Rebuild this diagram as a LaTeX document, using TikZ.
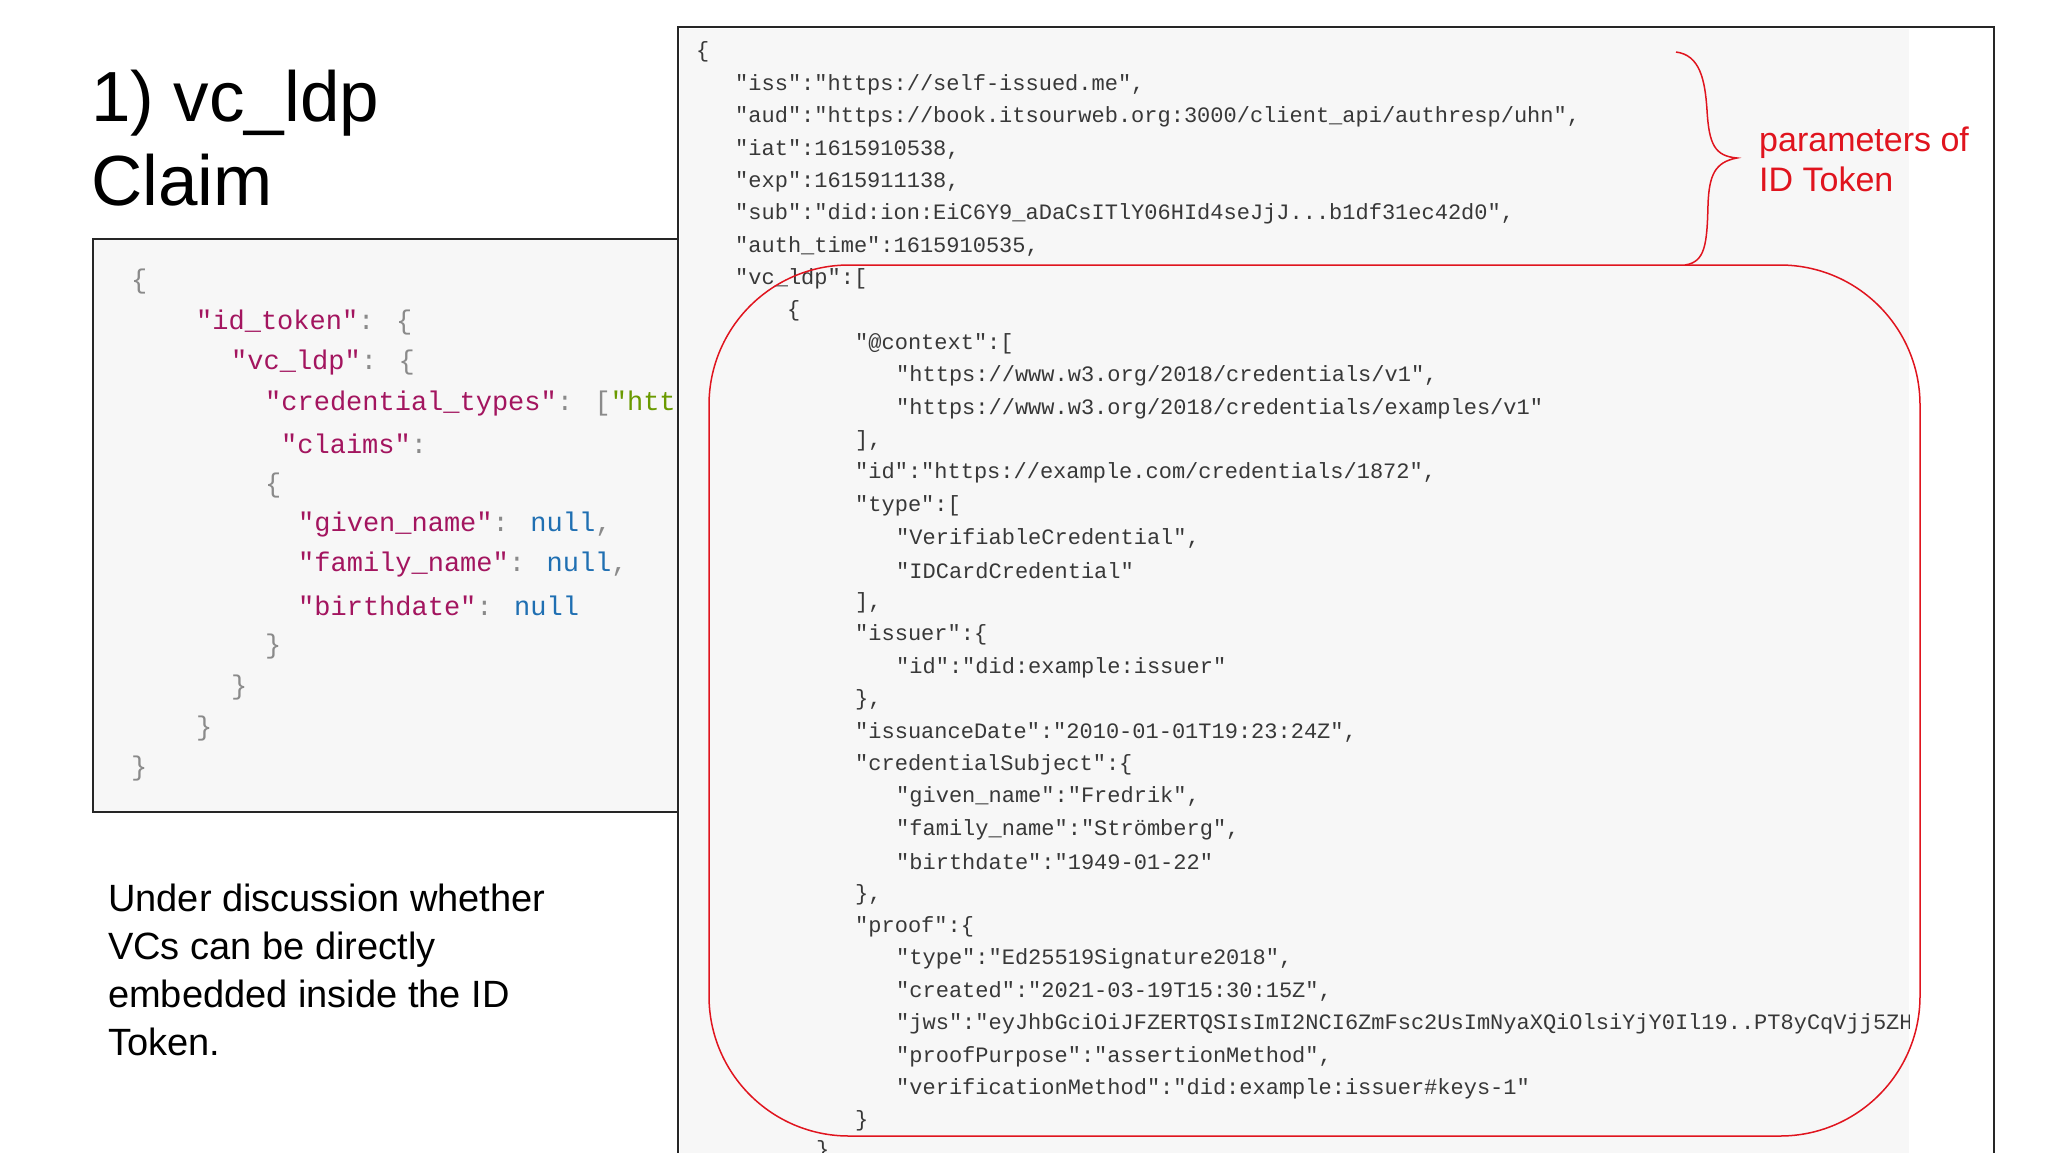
\documentclass[tikz,border=0pt]{standalone}
\usepackage{fontspec}
\setmainfont{Liberation Sans}
\newfontfamily\codefont{Liberation Mono}
\begin{document}
\begin{tikzpicture}[x=1pt,y=-1pt,
  rc/.style={anchor=west,inner sep=0pt,font=\codefont\fontsize{22}{26}\selectfont,text=black!78},
  lc/.style={anchor=west,inner sep=0pt,font=\codefont\fontsize{27}{32}\selectfont}]
\definecolor{keyc}{HTML}{A3155F}
\definecolor{nullc}{HTML}{1F6FB2}
\definecolor{brc}{HTML}{8A8A8A}
\definecolor{strc}{HTML}{6A9A00}
\definecolor{codebg}{HTML}{F7F7F7}
\definecolor{redc}{HTML}{E0141E}
\newcommand\rl[4]{\node[rc] (#1) at (#2,#3) {#4};}
\useasboundingbox (0,0) rectangle (2048,1152);
\fill[white] (0,0) rectangle (2048,1152);
% title
\node[anchor=base west,inner sep=0pt,font=\fontsize{71}{80}\selectfont] (t1) at (91,121) {1) vc\_ldp};
\node[anchor=base west,inner sep=0pt,font=\fontsize{71}{80}\selectfont] (t2) at (91,205) {Claim};
% left box
\fill[codebg] (93,239) rectangle (678,812);
\begin{scope}
\clip (93,239) rectangle (678,812);
\node[lc,text=brc] (l1) at (131,282) {\{};
\node[lc] (l2) at (196,323) {\textcolor{keyc}{"id\_token"}\textcolor{brc}{: \{}};
\node[lc] (l3) at (231,363) {\textcolor{keyc}{"vc\_ldp"}\textcolor{brc}{: \{}};
\node[lc] (l4) at (265,404) {\textcolor{keyc}{"credential\_types"}\textcolor{brc}{: [}\textcolor{strc}{"https://www.w3.org/2018/credentials/examples/v1"}};
\node[lc] (l5) at (281,444) {\textcolor{keyc}{"claims"}\textcolor{brc}{:}};
\node[lc,text=brc] (l6) at (265,486) {\{};
\node[lc] (l7) at (298,525) {\textcolor{keyc}{"given\_name"}\textcolor{brc}{: }\textcolor{nullc}{null}\textcolor{brc}{,}};
\node[lc] (l8) at (298,565) {\textcolor{keyc}{"family\_name"}\textcolor{brc}{: }\textcolor{nullc}{null}\textcolor{brc}{,}};
\node[lc] (l9) at (298,606) {\textcolor{keyc}{"birthdate"}\textcolor{brc}{: }\textcolor{nullc}{null}};
\node[lc,text=brc] (l10) at (265,647) {\}};
\node[lc,text=brc] (l11) at (231,688) {\}};
\node[lc,text=brc] (l12) at (196,729) {\}};
\node[lc,text=brc] (l13) at (131,769) {\}};
\end{scope}
\draw[line width=2pt,black!85] (93,239) rectangle (678,812);
% bottom text
\node[anchor=base west,inner sep=0pt,font=\fontsize{38}{48}\selectfont,align=left] (note) at (108,1055)
 {Under discussion whether\\VCs can be directly\\embedded inside the ID\\Token.};
% right box
\fill[white] (678,27) rectangle (1994,1160);
\fill[codebg] (680,29) rectangle (1909,1160);
\begin{scope}
\clip (680,29) rectangle (1909,1152);
\rl{r0}{696}{52.0}{\{}
\rl{r1}{735}{84.4}{"iss":"https://self-issued.me",}
\rl{r2}{735}{116.8}{"aud":"https://book.itsourweb.org:3000/client\_api/authresp/uhn",}
\rl{r3}{735}{149.2}{"iat":1615910538,}
\rl{r4}{735}{181.6}{"exp":1615911138,}
\rl{r5}{735}{214.0}{"sub":"did:ion:EiC6Y9\_aDaCsITlY06HId4seJjJ...b1df31ec42d0",}
\rl{r6}{735}{246.4}{"auth\_time":1615910535,}
\rl{r7}{735}{278.8}{"vc\_ldp":[}
\rl{r8}{787}{311.2}{\{}
\rl{r9}{855}{343.6}{"@context":[}
\rl{r10}{896}{376.0}{"https://www.w3.org/2018/credentials/v1",}
\rl{r11}{896}{408.4}{"https://www.w3.org/2018/credentials/examples/v1"}
\rl{r12}{855}{440.8}{],}
\rl{r13}{855}{473.2}{"id":"https://example.com/credentials/1872",}
\rl{r14}{855}{505.6}{"type":[}
\rl{r15}{896}{538.0}{"VerifiableCredential",}
\rl{r16}{896}{570.4}{"IDCardCredential"}
\rl{r17}{855}{602.8}{],}
\rl{r18}{855}{635.2}{"issuer":\{}
\rl{r19}{896}{667.6}{"id":"did:example:issuer"}
\rl{r20}{855}{700.0}{\},}
\rl{r21}{855}{732.4}{"issuanceDate":"2010-01-01T19:23:24Z",}
\rl{r22}{855}{764.8}{"credentialSubject":\{}
\rl{r23}{896}{797.2}{"given\_name":"Fredrik",}
\rl{r24}{896}{829.6}{"family\_name":"Strömberg",}
\rl{r25}{896}{862.0}{"birthdate":"1949-01-22"}
\rl{r26}{855}{894.4}{\},}
\rl{r27}{855}{926.8}{"proof":\{}
\rl{r28}{896}{959.2}{"type":"Ed25519Signature2018",}
\rl{r29}{896}{991.6}{"created":"2021-03-19T15:30:15Z",}
\rl{r30}{896}{1024.0}{"jws":"eyJhbGciOiJFZERTQSIsImI2NCI6ZmFsc2UsImNyaXQiOlsiYjY0Il19..PT8yCqVjj5ZHD3"}
\rl{r31}{896}{1056.4}{"proofPurpose":"assertionMethod",}
\rl{r32}{896}{1088.8}{"verificationMethod":"did:example:issuer\#keys-1"}
\rl{r33}{855}{1121.2}{\}}
\rl{r34}{816}{1151.0}{\}}
\end{scope}
\draw[line width=2pt,black!85] (678,1160) -- (678,27) -- (1994,27) -- (1994,1160);
% red annotations
\coordinate (bt) at (1676,52);
\coordinate (bb) at (1685,265);
\coordinate (tip) at (1737,158);
\draw[redc,line width=1.5pt] (bt) .. controls (1700,55) and (1705,80) .. (1707,110)
  .. controls (1709,145) and (1715,156) .. (tip)
  .. controls (1715,162) and (1709,175) .. (1708,205)
  .. controls (1707,245) and (1705,262) .. (bb);
\draw[redc,line width=1.5pt,rounded corners=140pt] (709,265) rectangle (1920,1136);
\node[anchor=base west,inner sep=0pt,text=redc,font=\fontsize{34}{40}\selectfont,align=left] (par) at (1759,191) {parameters of\\ID Token};
\end{tikzpicture}
\end{document}
